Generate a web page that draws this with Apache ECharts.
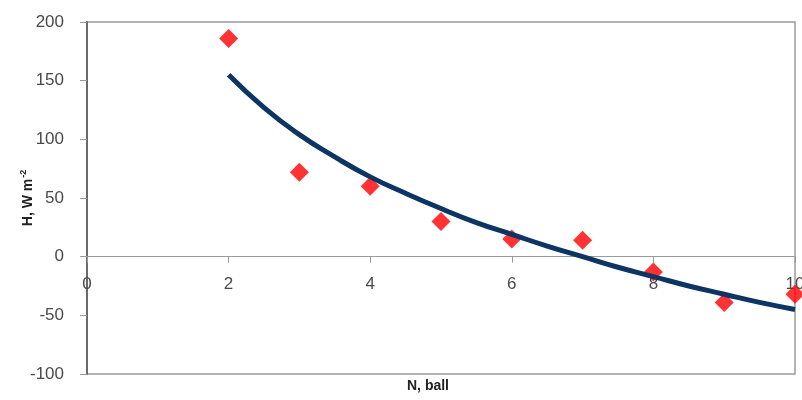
<!DOCTYPE html>
<html>
<head>
<meta charset="utf-8">
<script src="https://cdn.jsdelivr.net/npm/echarts@6/dist/echarts.min.js"></script>
<style>html,body{margin:0;padding:0;background:#fff}#c{width:802px;height:400px}</style>
</head>
<body>
<div id="c"></div>
<script>
// Measured points (N, H)
const pointX = [2, 3, 4, 5, 6, 7, 8, 9, 10];
const pointY = [186, 72, 60, 30, 15, 14, -13, -39, -32];
// Trend curve
const trendX = [2, 2.5, 3, 3.5, 4, 4.5, 5, 5.5, 6, 6.5, 7, 7.5, 8, 8.5, 9, 9.5, 10];
const trendY = [155, 127, 104, 85, 68, 54, 41, 29, 19, 9, 0, -9, -17, -25, -32, -39, -45];
const xTicks = [0, 2, 4, 6, 8, 10];
const yTicks = [-100, -50, 0, 50, 100, 150, 200];

const chart = echarts.init(document.getElementById('c'), null, {renderer: 'canvas'});
const font = 'Liberation Sans, Arial, sans-serif';
const gridTop = 22, gridBottom = 26, H = 400;
const plotH = H - gridTop - gridBottom;
const yMin = yTicks[0], yMax = yTicks[yTicks.length - 1];
const zeroOffset = -plotH * (0 - yMin) / (yMax - yMin);
chart.setOption({
  animation: false,
  backgroundColor: '#fff',
  grid: {left: 87, right: 7, top: gridTop, bottom: gridBottom, show: true, borderColor: '#9a9a9a', borderWidth: 1.5, backgroundColor: 'transparent', containLabel: false, outerBoundsMode: 'none'},
  xAxis: {
    type: 'value', min: xTicks[0], max: xTicks[xTicks.length - 1], interval: 2,
    position: 'bottom', offset: zeroOffset,
    axisLine: {onZero: false, lineStyle: {color: '#9a9a9a', width: 1.2}},
    axisTick: {show: true, length: 6, lineStyle: {color: '#9a9a9a'}},
    axisLabel: {margin: 19, fontFamily: font, fontSize: 17, color: '#4a4a4a'},
    splitLine: {show: false}
  },
  yAxis: {
    type: 'value', min: yMin, max: yMax, interval: 50,
    axisLine: {show: true, lineStyle: {color: '#6a6a6a', width: 2}},
    axisTick: {show: true, length: 7, lineStyle: {color: '#9a9a9a'}},
    axisLabel: {margin: 23, fontFamily: font, fontSize: 17, color: '#4a4a4a'},
    splitLine: {show: false}
  },
  graphic: [
    {
      type: 'text', left: 407, top: 379,
      style: {text: 'N, ball', font: 'bold 14px Liberation Sans, Arial, sans-serif', fill: '#222'}
    },
    {
      type: 'text', x: 28, y: 198, rotation: Math.PI / 2,
      style: {
        text: '{n|H, W m}{s|-2}', align: 'center', verticalAlign: 'middle',
        rich: {
          n: {fontFamily: font, fontSize: 14, fontWeight: 'bold', fill: '#222'},
          s: {fontFamily: font, fontSize: 9, fontWeight: 'bold', fill: '#222', verticalAlign: 'top', padding: [0, 0, 9, 1]}
        }
      }
    }
  ],
  series: [
    {
      type: 'scatter', data: pointX.map((x, i) => [x, pointY[i]]),
      symbol: 'diamond', symbolSize: 19,
      itemStyle: {color: '#ff0000'}, z: 2
    },
    {
      type: 'line', data: trendX.map((x, i) => [x, trendY[i]]),
      smooth: true, showSymbol: false,
      lineStyle: {color: '#0d3563', width: 5}, z: 3
    }
  ]
});
</script>
</body>
</html>
